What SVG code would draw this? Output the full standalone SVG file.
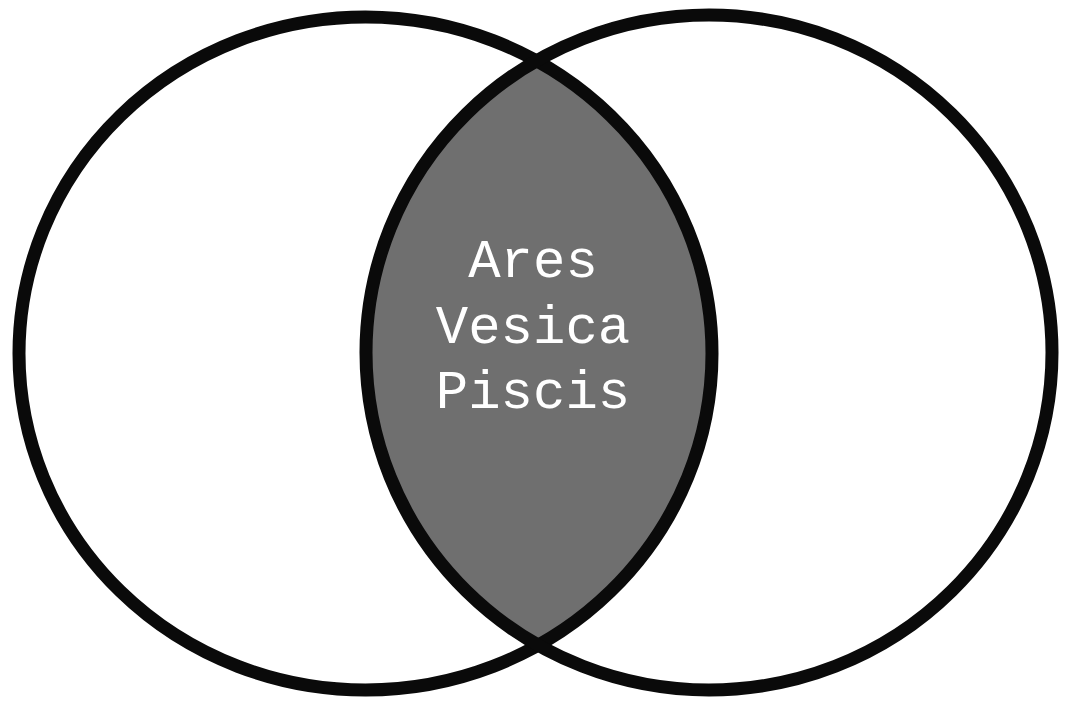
<svg xmlns="http://www.w3.org/2000/svg" width="1068" height="705" viewBox="0 0 1068 705">
<style>
.ring{fill:none;stroke:#0a0a0a;stroke-width:13}
.lbl{font-family:"Liberation Mono","Courier New",monospace;font-size:54px;fill:#ffffff;text-anchor:middle}
</style>
<defs>
<clipPath id="clipL"><ellipse cx="365.5" cy="353.5" rx="346.5" ry="336.5"/></clipPath>
</defs>
<rect width="1068" height="705" fill="#ffffff"/>
<g id="lens">
<ellipse cx="709" cy="352.5" rx="343" ry="337.5" fill="#6f6f6f" clip-path="url(#clipL)"/>
</g>
<g id="circle-left"><ellipse class="ring" cx="365.5" cy="353.5" rx="346.5" ry="336.5"/></g>
<g id="circle-right"><ellipse class="ring" cx="709" cy="352.5" rx="343" ry="337.5"/></g>
<g id="label">
<text class="lbl" x="533" y="277">Ares</text>
<text class="lbl" x="533" y="343">Vesica</text>
<text class="lbl" x="533" y="408">Piscis</text>
</g>
<g id="connectors"/>
</svg>
